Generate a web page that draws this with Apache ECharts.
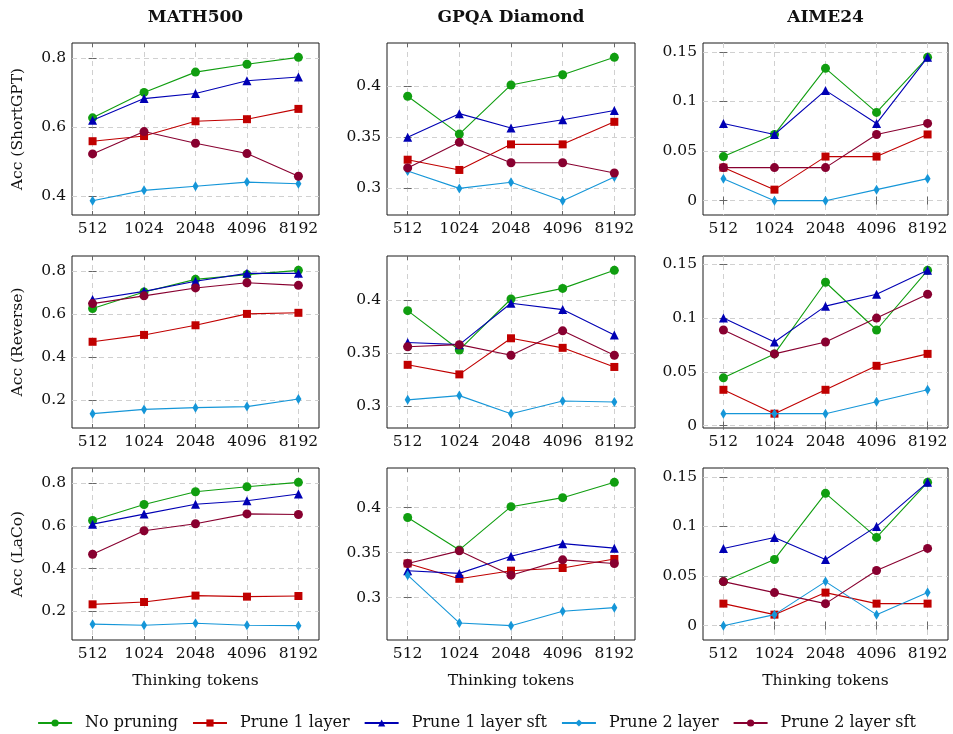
<!DOCTYPE html>
<html>
<head>
<meta charset="utf-8">
<script src="https://cdn.jsdelivr.net/npm/echarts@6/dist/echarts.min.js"></script>
<style>html,body{margin:0;padding:0;background:#fff}#c{width:953px;height:734px}</style>
</head>
<body>
<div id="c"></div>
<script>
const tokens = ['512','1024','2048','4096','8192'];
const methods = ['No pruning','Prune 1 layer','Prune 1 layer sft','Prune 2 layer','Prune 2 layer sft'];
const benchmarks = ['MATH500','GPQA Diamond','AIME24'];
const pruningNames = ['ShortGPT','Reverse','LaCo'];

// each panel: rows in method order (No pruning, Prune 1 layer, Prune 1 layer sft, Prune 2 layer, Prune 2 layer sft)
const math500ShortGPT = [
  [0.627,0.701,0.760,0.783,0.803],
  [0.559,0.574,0.617,0.623,0.653],
  [0.620,0.683,0.698,0.735,0.746],
  [0.386,0.416,0.428,0.440,0.435],
  [0.522,0.587,0.553,0.523,0.457]];
const gpqaShortGPT = [
  [0.390,0.353,0.401,0.411,0.428],
  [0.328,0.318,0.343,0.343,0.365],
  [0.350,0.373,0.359,0.367,0.376],
  [0.317,0.300,0.306,0.288,0.311],
  [0.320,0.345,0.325,0.325,0.315]];
const aimeShortGPT = [
  [0.0444,0.0667,0.1333,0.0889,0.1444],
  [0.0333,0.0111,0.0444,0.0444,0.0667],
  [0.0778,0.0667,0.1111,0.0778,0.1444],
  [0.0222,0,0,0.0111,0.0222],
  [0.0333,0.0333,0.0333,0.0667,0.0778]];
const math500Reverse = [
  [0.627,0.704,0.763,0.785,0.805],
  [0.472,0.504,0.549,0.602,0.607],
  [0.669,0.707,0.754,0.791,0.791],
  [0.137,0.157,0.165,0.170,0.205],
  [0.650,0.686,0.723,0.747,0.735]];
const gpqaReverse = [
  [0.390,0.353,0.401,0.411,0.428],
  [0.339,0.330,0.364,0.355,0.337],
  [0.360,0.358,0.397,0.391,0.367],
  [0.306,0.310,0.293,0.305,0.304],
  [0.356,0.358,0.348,0.371,0.348]];
const aimeReverse = [
  [0.0444,0.0667,0.1333,0.0889,0.1444],
  [0.0333,0.0111,0.0333,0.0556,0.0667],
  [0.1000,0.0778,0.1111,0.1222,0.1444],
  [0.0111,0.0111,0.0111,0.0222,0.0333],
  [0.0889,0.0667,0.0778,0.1000,0.1222]];
const math500LaCo = [
  [0.626,0.701,0.761,0.784,0.805],
  [0.233,0.244,0.274,0.269,0.272],
  [0.609,0.656,0.702,0.719,0.750],
  [0.140,0.135,0.144,0.135,0.133],
  [0.468,0.578,0.611,0.657,0.654]];
const gpqaLaCo = [
  [0.389,0.353,0.401,0.411,0.428],
  [0.338,0.321,0.330,0.333,0.343],
  [0.330,0.327,0.346,0.360,0.355],
  [0.325,0.272,0.269,0.285,0.289],
  [0.338,0.352,0.325,0.342,0.338]];
const aimeLaCo = [
  [0.0444,0.0667,0.1333,0.0889,0.1444],
  [0.0222,0.0111,0.0333,0.0222,0.0222],
  [0.0778,0.0889,0.0667,0.1000,0.1444],
  [0,0.0111,0.0444,0.0111,0.0333],
  [0.0444,0.0333,0.0222,0.0556,0.0778]];

const yTicksMath500 = [[0.4,0.6,0.8],[0.2,0.4,0.6,0.8],[0.2,0.4,0.6,0.8]];
const yTicksGpqa = [0.3,0.35,0.4];
const yTicksAime = [0,0.05,0.1,0.15];

const panels = [
  [math500ShortGPT, gpqaShortGPT, aimeShortGPT],
  [math500Reverse, gpqaReverse, aimeReverse],
  [math500LaCo, gpqaLaCo, aimeLaCo]];

const colors = ['#109e10','#c00000','#0000b4','#1596d8','#880030'];
const symbols = ['circle','rect','triangle','diamond','circle'];
const symbolSizes = [9,8,9,[6,10],9];

const FONT = 'DejaVu Serif';
const colLeft = [72,387,703];
const colWidth = [247,248,245];
const rowTop = [43,256,468];
const H = 172;

const grids = [], xAxes = [], yAxes = [], series = [], graphics = [];
const xIdx = [0,1,2,3,4];

for (let r = 0; r < 3; r++) {
  for (let c = 0; c < 3; c++) {
    const k = r*3 + c;
    const data = panels[r][c];
    let mn = Infinity, mx = -Infinity;
    data.forEach(a => a.forEach(v => { mn = Math.min(mn, v); mx = Math.max(mx, v); }));
    const rg = mx - mn;
    const ymin = mn - 0.1*rg, ymax = mx + 0.1*rg;
    const yt = c === 0 ? yTicksMath500[r] : (c === 1 ? yTicksGpqa : yTicksAime);
    grids.push({left: colLeft[c], top: rowTop[r], width: colWidth[c], height: H,
      show: true, borderColor: '#1a1a1a', borderWidth: 1, backgroundColor: 'transparent'});
    const tickStyle = {show: true, inside: true, length: 4, lineStyle: {color: '#666', width: 1}};
    xAxes.push({type: 'value', gridIndex: k, min: -0.4, max: 4.4, position: 'bottom',
      axisLine: {show: false},
      axisTick: Object.assign({customValues: xIdx}, tickStyle),
      axisLabel: {customValues: xIdx, formatter: v => tokens[Math.round(v)], fontFamily: FONT, fontSize: 15.5, color: '#111', margin: 6},
      splitLine: {show: true, lineStyle: {color: '#d0d0d0', type: [5,4], width: 1}},
      name: r === 2 ? 'Thinking tokens' : '', nameLocation: 'middle', nameGap: 33,
      nameTextStyle: {fontFamily: FONT, fontSize: 15.5, color: '#111'}});
    xAxes.push({type: 'value', gridIndex: k, min: -0.4, max: 4.4, position: 'top',
      axisLine: {show: false}, axisTick: Object.assign({customValues: xIdx}, tickStyle),
      axisLabel: {show: false, customValues: xIdx}, splitLine: {show: false}});
    yAxes.push({type: 'value', gridIndex: k, min: ymin, max: ymax, position: 'left',
      axisLine: {show: false},
      axisTick: Object.assign({customValues: yt}, tickStyle),
      axisLabel: {customValues: yt, formatter: v => String(+v.toFixed(4)), fontFamily: FONT, fontSize: 15.5, color: '#111', margin: 6},
      splitLine: {show: true, lineStyle: {color: '#d0d0d0', type: [5,4], width: 1}},
      name: c === 0 ? 'Acc (' + pruningNames[r] + ')' : '', nameLocation: 'middle', nameGap: 46, nameRotate: 90,
      nameTextStyle: {fontFamily: FONT, fontSize: 15.5, color: '#111'}});
    yAxes.push({type: 'value', gridIndex: k, min: ymin, max: ymax, position: 'right',
      axisLine: {show: false}, axisTick: Object.assign({customValues: yt}, tickStyle),
      axisLabel: {show: false, customValues: yt}, splitLine: {show: false}});
    data.forEach((vals, m) => {
      series.push({type: 'line', name: methods[m], xAxisIndex: 2*k, yAxisIndex: 2*k,
        data: vals.map((v, i) => [xIdx[i], v]),
        symbol: symbols[m], symbolSize: symbolSizes[m], showSymbol: true,
        lineStyle: {color: colors[m], width: 1.1}, itemStyle: {color: colors[m]},
        emphasis: {disabled: true}, animation: false, z: 2 + m});
    });
  }
}

benchmarks.forEach((b, c) => {
  graphics.push({type: 'text', x: colLeft[c] + colWidth[c]/2, y: 18,
    style: {text: b, font: 'bold 17px "' + FONT + '"', fill: '#111', align: 'center', verticalAlign: 'middle',
      textAlign: 'center', textVerticalAlign: 'middle'}});
});

const chart = echarts.init(document.getElementById('c'), null, {renderer: 'canvas'});
chart.setOption({
  animation: false,
  backgroundColor: '#fff',
  grid: grids, xAxis: xAxes, yAxis: yAxes, series: series,
  graphic: graphics,
  legend: {data: methods, top: 710, left: 'center', itemWidth: 34, itemHeight: 9, itemGap: 14,
    textStyle: {fontFamily: FONT, fontSize: 16, color: '#111', padding: [0,0,0,8]}}
});
</script>
</body>
</html>
